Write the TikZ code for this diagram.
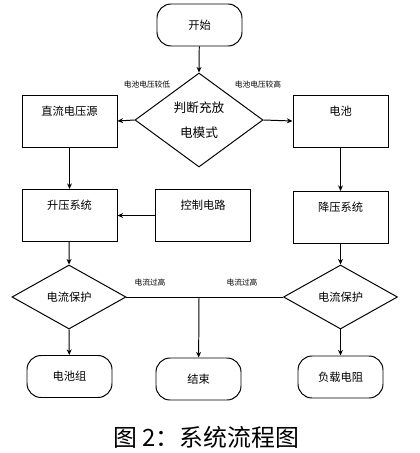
\documentclass[tikz,border=0pt]{standalone}
\usepackage{fontspec}
\setmainfont{Noto Sans CJK SC}
\usepackage{tikz}
\usetikzlibrary{shapes.geometric,arrows.meta}

\tikzset{
    box/.style={draw, line width=0.7pt, minimum width=95*0.025cm, minimum height=52*0.025cm,
        inner sep=0pt, font=\fontsize{8}{10}\selectfont, text height=6pt, text depth=14pt},
    term/.style={draw, line width=0.7pt, rounded corners=10pt, minimum width=85*0.025cm,
        minimum height=42*0.025cm, inner sep=0pt, font=\fontsize{8}{10}\selectfont},
    judge/.style={draw, diamond, line width=0.7pt, inner sep=0pt, align=center},
    lab/.style={font=\fontsize{5.5}{7}\selectfont, inner sep=0pt},
    arr/.style={-{Stealth[length=4pt,width=3.5pt]}, line width=0.7pt}
}

\begin{document}
\begin{tikzpicture}[x=0.025cm, y=-0.025cm]
        \useasboundingbox (0,0) rectangle (420,453);
        % Start
        \node[term] (start) at (199.5,25) {开始};
        \node[judge, minimum width=128*0.025cm, minimum height=94*0.025cm,
              font=\fontsize{9}{18}\selectfont] (mode) at (199,120) {判断充放\\电模式};
        \draw[arr] (start) -- (mode.north);
        % Charging branch (left)
        \node[box] (dc) at (69.5,121) {直流电压源};
        \node[box] (boost) at (69.5,215.5) {升压系统};
        \node[box] (ctrl) at (203,215.5) {控制电路};
        \draw[arr] (mode.west) -- (dc.east);
        \node[lab] at (147,85) {电池电压较低};
        \draw[arr] (dc) -- (boost);
        \draw[arr] (ctrl.west) -- (boost.east);
        % Discharging branch (right)
        \node[box] (bat) at (340.5,121) {电池};
        \node[box] (buck) at (340.5,217.5) {降压系统};
        \draw[arr] (mode.east) -- (bat.west);
        \node[lab] at (258,85) {电池电压较高};
        \draw[arr] (bat) -- (buck);
        % Current protection
        \node[judge, minimum width=114*0.025cm, minimum height=64*0.025cm,
              font=\fontsize{8}{10}\selectfont] (protl) at (69,297) {电流保护};
        \node[judge, minimum width=114*0.025cm, minimum height=64*0.025cm,
              font=\fontsize{8}{10}\selectfont] (protr) at (340.5,297) {电流保护};
        \draw[arr] (boost) -- (protl.north);
        \draw[arr] (buck) -- (protr.north);
        % Ends
        \node[term] (pack) at (69.5,376.5) {电池组};
        \node[term] (stop) at (198.5,379) {结束};
        \node[term] (load) at (340.5,377) {负载电阻};
        \draw[arr] (protl.south) -- (pack);
        \draw[arr] (protr.south) -- (load);
        \coordinate (junc) at (199,297);
        \draw[line width=0.7pt] (protl.east) -- (protr.west);
        \draw[arr] (junc) -- (stop);
        \node[lab] at (150,283) {电流过高};
        \node[lab] at (242,283) {电流过高};
        % Caption
        \node[font=\fontsize{17}{20}\selectfont] (cap) at (206,437) {图 2：系统流程图};
    \end{tikzpicture}
\end{document}
